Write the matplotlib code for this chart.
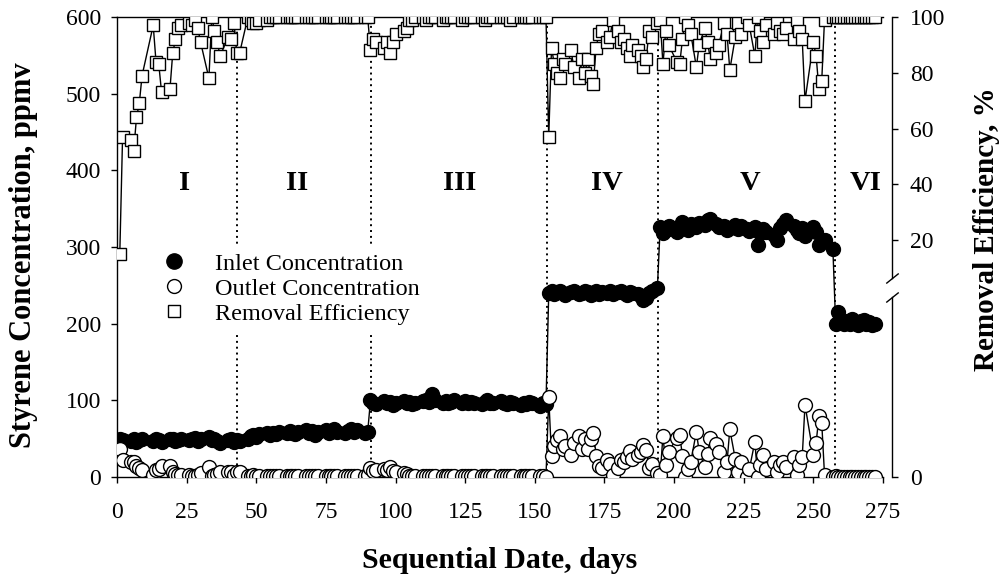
import matplotlib
matplotlib.use("Agg")
import matplotlib.pyplot as plt
from matplotlib.lines import Line2D

plt.rcParams['font.family'] = ['Liberation Serif', 'DejaVu Serif']

# ---- data (days of operation) ----
# phase I
days_I = [1, 2, 5, 6, 7, 8, 9, 13, 14, 15, 16, 19, 20, 21, 22, 23, 26, 27, 28, 29,
          30, 33, 34, 35, 36, 37, 40, 41, 42, 43]
inlet_I = [50, 48, 47, 49, 46, 48, 50, 47, 49, 48, 46, 50, 49, 47, 48, 50, 48, 49, 51, 47,
           50, 52, 48, 50, 47, 45, 48, 50, 46, 48]
outlet_I = [37, 22, 20, 19, 15, 12, 9, 2, 9, 11, 14, 15, 7, 4, 2, 2, 2, 1, 1, 2,
            5, 13, 1, 3, 4, 6, 6, 7, 2, 7]
removal_I = [15, 57, 56, 52, 64, 69, 79, 97, 84, 83, 73, 74, 87, 92, 96, 97, 98, 97, 99, 96,
             91, 78, 100, 95, 91, 86, 93, 92, 98, 87]

# phase II
days_II = [44, 47, 48, 49, 50, 51, 54, 55, 56, 57, 58, 61, 62, 63, 64, 65, 68, 69, 70, 71,
           72, 75, 76, 77, 78, 79, 82, 83, 84, 85, 86, 89, 90]
inlet_II = [47, 50, 53, 55, 52, 56, 57, 55, 58, 56, 59, 57, 60, 58, 56, 59, 61, 58, 60, 55,
            59, 61, 58, 60, 62, 59, 57, 60, 62, 59, 61, 58, 59]
outlet_II = [6, 1, 1, 2, 1, 1, 1, 1, 1, 1, 1, 1, 1, 1, 1, 1, 1, 1, 1, 1,
             1, 1, 1, 1, 1, 1, 1, 1, 1, 1, 1, 1, 2]
removal_II = [87, 100, 99, 98, 98, 99, 99, 100, 100, 100, 100, 100, 100, 100, 100, 100, 100, 100, 100, 100,
              100, 100, 100, 100, 100, 100, 100, 100, 100, 100, 100, 100, 100]

# phase III
days_III = [91, 92, 93, 96, 97, 98, 99, 100, 103, 104, 105, 106, 107, 110, 111, 112, 113, 114, 117, 118,
            119, 120, 121, 124, 125, 126, 127, 128, 131, 132, 133, 134, 135, 138, 139, 140, 141, 142, 145, 146,
            147, 148, 149, 152, 153, 154]
inlet_III = [100, 97, 95, 99, 96, 98, 94, 97, 99, 96, 98, 95, 97, 99, 101, 98, 108, 100, 97, 99,
             96, 98, 100, 97, 99, 96, 98, 97, 95, 98, 100, 97, 96, 99, 97, 95, 98, 96, 94, 97,
             95, 98, 96, 93, 97, 95]
outlet_III = [12, 8, 9, 11, 9, 13, 8, 6, 5, 4, 1, 1, 1, 1, 1, 1, 1, 1, 1, 1,
              1, 1, 1, 1, 1, 1, 1, 1, 1, 1, 1, 1, 1, 1, 1, 1, 1, 1, 1, 1,
              1, 1, 1, 1, 1, 0]
removal_III = [88, 92, 91, 89, 91, 87, 91, 94, 95, 96, 99, 99, 100, 100, 99, 100, 100, 100, 99, 100,
               100, 100, 100, 99, 100, 100, 100, 100, 100, 99, 100, 100, 100, 100, 100, 100, 99, 100, 100, 100,
               100, 100, 100, 100, 100, 100]

# phase IV
days_IV = [155, 156, 157, 158, 159, 160, 161, 163, 164, 166, 167, 168, 169, 170, 171, 172, 173, 174, 176, 177,
           178, 180, 181, 182, 183, 184, 185, 187, 188, 189, 190, 191, 192, 194]
inlet_IV = [240, 242, 239, 241, 243, 240, 238, 241, 242, 239, 240, 243, 241, 238, 240, 242, 239, 241, 240, 242,
            239, 241, 243, 240, 238, 241, 240, 239, 236, 231, 234, 240, 243, 246]
outlet_IV = [104, 27, 41, 48, 53, 36, 40, 29, 44, 53, 36, 49, 36, 50, 58, 27, 14, 12, 22, 17,
             2, 12, 22, 19, 26, 34, 24, 29, 33, 42, 35, 12, 17, 5]
removal_IV = [57, 89, 83, 80, 78, 85, 83, 88, 82, 78, 85, 80, 85, 79, 76, 89, 94, 95, 91, 93,
              99, 95, 91, 92, 89, 86, 90, 88, 86, 82, 85, 95, 93, 98]

# phase V
days_V = [195, 196, 197, 198, 201, 202, 203, 204, 205, 206, 208, 209, 211, 212, 213, 215, 216, 218, 219, 220,
          222, 223, 224, 226, 227, 229, 230, 231, 232, 233, 236, 237, 238, 239, 240, 243, 244, 245, 246, 247,
          250, 251, 252, 253, 254, 257]
inlet_V = [326, 318, 322, 328, 320, 325, 333, 327, 322, 330, 326, 331, 329, 335, 337, 330, 326, 328, 322, 325,
           329, 323, 327, 324, 321, 326, 302, 318, 323, 320, 316, 309, 325, 330, 335, 328, 322, 318, 325, 315,
           326, 320, 302, 308, 309, 298]
outlet_V = [3, 54, 16, 33, 51, 55, 27, 0, 10, 20, 59, 33, 13, 30, 51, 43, 33, 7, 19, 62,
            23, 6, 20, 0, 10, 46, 0, 16, 29, 10, 19, 6, 16, 20, 13, 26, 3, 16, 26, 94,
            29, 45, 79, 71, 3, 0]
removal_V = [99, 83, 95, 90, 84, 83, 92, 100, 97, 94, 82, 90, 96, 91, 85, 87, 90, 98, 94, 81,
             93, 98, 94, 100, 97, 86, 100, 95, 91, 97, 94, 98, 95, 94, 96, 92, 99, 95, 92, 70,
             91, 86, 74, 77, 99, 100]

# phase VI
days_VI = [258, 259, 260, 261, 262, 263, 264, 265, 266, 267, 268, 269, 270, 271, 272]
inlet_VI = [200, 215, 202, 199, 204, 200, 206, 201, 198, 203, 205, 200, 202, 198, 200]
outlet_VI = [1, 0, 0, 0, 0, 0, 0, 0, 0, 0, 0, 0, 0, 0, 0]
removal_VI = [100, 100, 100, 100, 100, 100, 100, 100, 100, 100, 100, 100, 100, 100, 100]

days = days_I + days_II + days_III + days_IV + days_V + days_VI
inlet = inlet_I + inlet_II + inlet_III + inlet_IV + inlet_V + inlet_VI
outlet = outlet_I + outlet_II + outlet_III + outlet_IV + outlet_V + outlet_VI
removal = removal_I + removal_II + removal_III + removal_IV + removal_V + removal_VI

phase_bounds = [43, 91.2, 154.5, 194.3, 257.8]
phase_names = ["I", "II", "III", "IV", "V", "VI"]
phase_name_x = [24.4, 64.6, 123.2, 176, 227.3, 268.6]
phase_name_y = 383

x_ticks = [0, 25, 50, 75, 100, 125, 150, 175, 200, 225, 250, 275]
conc_ticks = [0, 100, 200, 300, 400, 500, 600]
eff_ticks = [20, 40, 60, 80, 100]
eff_zero = -65  # where "0" of the broken efficiency axis sits

fig = plt.figure(figsize=(10.05, 5.81), dpi=100)
ax = fig.add_axes([117/1005, 104/581, 766/1005, 460/581])

ax.plot(days, inlet, '-o', color='k', mfc='k', mec='k', ms=10, lw=1, zorder=3)
ax.plot(days, outlet, '-o', color='k', mfc='white', mec='k', ms=10, mew=1, lw=1, zorder=4)
for xb in phase_bounds:
    ax.axvline(xb, color='k', ls=(0, (1, 2)), lw=1.4, zorder=1)
for name, xn in zip(phase_names, phase_name_x):
    ax.text(xn, phase_name_y, name, ha='center', va='center', fontsize=20.5, fontweight='bold')

ax.set_xlim(0, 275)
ax.set_ylim(0, 600)
ax.set_xticks(x_ticks)
ax.set_yticks(conc_ticks)
ax.spines['right'].set_visible(False)
for s in ['left', 'top', 'bottom']:
    ax.spines[s].set_linewidth(1)
ax.tick_params(direction='out', length=4.3, width=1, labelsize=17)
ax.tick_params(axis='x', pad=14)
ax.tick_params(axis='y', pad=7)
ax.set_xlabel("Sequential Date, days", fontsize=21.5, fontweight='bold')
ax.xaxis.set_label_coords(0.5, (477 - 547) / 460)
ax.set_ylabel("Styrene Concentration, ppmv", fontsize=22, fontweight='bold')
ax.yaxis.set_label_coords((38 - 117) / 766, (477 - 255) / 460)

ax2 = ax.twinx()
ax2.plot(days, removal, '-s', color='k', mfc='white', mec='k', ms=9, mew=1, lw=1)
ax2.set_ylim(eff_zero, 100)
ax2.set_yticks([eff_zero] + eff_ticks)
ax2.set_yticklabels(['0'] + [str(t) for t in eff_ticks])
for s in ['left', 'top', 'bottom']:
    ax2.spines[s].set_visible(False)
rsp = ax2.spines['right']
rsp.set_position(('outward', 6.5))
rsp.set_bounds(6.5, 100)
rsp.set_linewidth(1)
trans = rsp.get_spine_transform()
ax2.plot([1, 1], [eff_zero, -0.5], transform=trans, color='k', lw=1, clip_on=False)
ax2.plot([1, 1], [6.5, -0.5], transform=trans, ls='none', marker=[(-1, -0.8), (1, 0.8)],
         ms=9, mec='k', mew=1, fillstyle='none', clip_on=False)
ax2.tick_params(direction='out', length=4.3, width=1, labelsize=17, pad=8.6)
ax2.set_ylabel("Removal Efficiency, %", fontsize=21, fontweight='bold')
ax2.yaxis.set_label_coords((973 - 117) / 766, (477 - 229) / 460)

handles = [Line2D([], [], ls='none', marker='o', mfc='k', mec='k', ms=11),
           Line2D([], [], ls='none', marker='o', mfc='white', mec='k', ms=10),
           Line2D([], [], ls='none', marker='s', mfc='white', mec='k', ms=9)]
labels = ["Inlet Concentration", "Outlet Concentration", "Removal Efficiency"]
leg = ax.legend(handles, labels, loc='upper left', bbox_to_anchor=(0.049, 0.503),
                frameon=True, facecolor='white', edgecolor='none', framealpha=1,
                fontsize=17.5, handlelength=1, handletextpad=1.2, labelspacing=0.12,
                borderpad=0.3, borderaxespad=0)
leg.set_zorder(10)

fig.savefig("out.png", dpi=100)
